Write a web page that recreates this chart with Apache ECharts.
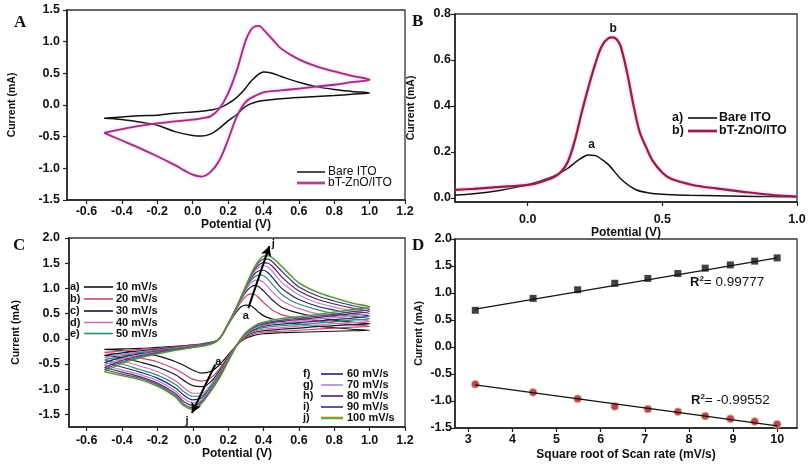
<!DOCTYPE html>
<html><head><meta charset="utf-8">
<script src="https://cdn.jsdelivr.net/npm/echarts@6/dist/echarts.min.js"></script>
<style>html,body{margin:0;padding:0;background:#fff}#c{width:810px;height:466px}</style>
</head><body><div id="c"></div>
<script>
// ---------- Panel A : CV, bare vs modified ----------
const aFwdX = [-0.5,-0.4,-0.3,-0.2,-0.1,0,0.05,0.1,0.15,0.2,0.25,0.275,0.3,0.325,0.35,0.375,0.4,0.45,0.5,0.6,0.7,0.8,0.9,1.0];
const aRevX = [0.9,0.8,0.7,0.6,0.5,0.4,0.35,0.3,0.25,0.2,0.15,0.1,0.05,0,-0.1,-0.2,-0.3,-0.4,-0.5];
const aBareFwd = [-0.21,-0.19,-0.17,-0.16,-0.13,-0.11,-0.10,-0.08,-0.05,0.02,0.12,0.19,0.27,0.36,0.43,0.49,0.52,0.50,0.45,0.36,0.29,0.245,0.215,0.19];
const aBareRev = [0.17,0.15,0.135,0.12,0.10,0.07,0.04,-0.02,-0.15,-0.25,-0.37,-0.46,-0.49,-0.48,-0.42,-0.32,-0.27,-0.23,-0.21];
const aZnoFwd = [-0.44,-0.38,-0.33,-0.29,-0.26,-0.23,-0.21,-0.18,-0.06,0.18,0.55,0.79,1.02,1.17,1.24,1.25,1.19,1.04,0.89,0.72,0.61,0.53,0.46,0.40];
const aZnoRev = [0.36,0.32,0.29,0.26,0.23,0.20,0.14,0.05,-0.18,-0.55,-0.88,-1.06,-1.13,-1.10,-0.95,-0.81,-0.68,-0.56,-0.44];
const aXTicks = [-0.6,-0.4,-0.2,0,0.2,0.4,0.6,0.8,1.0,1.2];
const aYTicks = [-1.5,-1.0,-0.5,0,0.5,1.0,1.5];
const abNames = ['Bare ITO','bT-ZnO/ITO'];

// ---------- Panel B : DPV ----------
const bBareX = [-0.27,-0.2,-0.1,0,0.05,0.1,0.15,0.18,0.2,0.225,0.25,0.275,0.3,0.35,0.4,0.45,0.5,0.6,0.7,0.8,0.9,1.0];
const bBareY = [0.012,0.018,0.034,0.057,0.075,0.097,0.13,0.158,0.174,0.187,0.185,0.168,0.145,0.078,0.037,0.022,0.016,0.012,0.01,0.008,0.006,0.005];
const bZnoX = [-0.27,-0.2,-0.1,0,0.05,0.1,0.125,0.15,0.175,0.2,0.225,0.25,0.275,0.3,0.315,0.33,0.345,0.37,0.39,0.415,0.44,0.465,0.5,0.53,0.6,0.65,0.7,0.8,0.9,1.0];
const bZnoY = [0.035,0.04,0.048,0.057,0.07,0.092,0.115,0.16,0.25,0.37,0.48,0.58,0.66,0.695,0.698,0.69,0.66,0.54,0.42,0.29,0.22,0.16,0.11,0.085,0.06,0.049,0.042,0.027,0.014,0.006];
const bXTicks = [0,0.5,1.0];
const bYTicks = [0,0.2,0.4,0.6,0.8];
const bLetters = ['a)','b)'];

// ---------- Panel C : CV at scan rates ----------
const cvFwdX = [-0.5,-0.4,-0.3,-0.2,-0.1,0,0.1,0.15,0.2,0.225,0.25,0.275,0.3,0.325,0.35,0.375,0.4,0.425,0.45,0.5,0.55,0.6,0.7,0.8,0.9,1.0];
const cvRevX = [0.9,0.8,0.7,0.6,0.5,0.4,0.35,0.3,0.25,0.2,0.15,0.1,0.05,0,-0.05,-0.1,-0.2,-0.3,-0.4,-0.5];
const fwd10 = [-0.21,-0.20,-0.19,-0.17,-0.15,-0.12,-0.07,0.0,0.28,0.42,0.55,0.64,0.67,0.66,0.60,0.52,0.46,0.42,0.39,0.35,0.31,0.29,0.25,0.22,0.19,0.17];
const rev10 = [0.16,0.15,0.14,0.13,0.12,0.10,0.07,0.01,-0.12,-0.32,-0.52,-0.65,-0.68,-0.62,-0.53,-0.45,-0.34,-0.28,-0.23,-0.21];
const fwd20 = [-0.27,-0.24,-0.21,-0.19,-0.16,-0.13,-0.08,0.0,0.29,0.44,0.60,0.74,0.84,0.89,0.88,0.81,0.72,0.64,0.57,0.48,0.44,0.41,0.36,0.31,0.28,0.25];
const rev20 = [0.23,0.21,0.19,0.17,0.15,0.13,0.10,0.03,-0.12,-0.35,-0.60,-0.78,-0.84,-0.80,-0.70,-0.60,-0.46,-0.38,-0.31,-0.27];
const fwd30 = [-0.33,-0.28,-0.24,-0.21,-0.17,-0.14,-0.08,0.0,0.29,0.45,0.62,0.79,0.93,1.02,1.06,1.03,0.95,0.86,0.77,0.63,0.56,0.51,0.43,0.37,0.33,0.30];
const rev30 = [0.28,0.26,0.24,0.21,0.19,0.16,0.13,0.05,-0.12,-0.37,-0.64,-0.86,-0.95,-0.93,-0.83,-0.71,-0.56,-0.46,-0.38,-0.33];
const fwd40 = [-0.37,-0.31,-0.26,-0.22,-0.18,-0.14,-0.09,0.0,0.29,0.45,0.63,0.81,0.97,1.09,1.16,1.17,1.12,1.03,0.93,0.77,0.67,0.60,0.50,0.44,0.39,0.35];
const rev40 = [0.32,0.30,0.27,0.25,0.22,0.19,0.15,0.07,-0.12,-0.39,-0.67,-0.92,-1.08,-1.08,-0.97,-0.83,-0.65,-0.54,-0.44,-0.37];
const fwd50 = [-0.42,-0.34,-0.28,-0.23,-0.19,-0.15,-0.09,0.0,0.30,0.46,0.63,0.82,1.00,1.14,1.23,1.27,1.25,1.18,1.08,0.89,0.77,0.69,0.58,0.50,0.45,0.40];
const rev50 = [0.37,0.34,0.31,0.28,0.26,0.22,0.17,0.08,-0.12,-0.40,-0.69,-0.95,-1.13,-1.14,-1.05,-0.90,-0.72,-0.61,-0.50,-0.42];
const fwd60 = [-0.47,-0.37,-0.30,-0.25,-0.20,-0.15,-0.09,0.0,0.30,0.46,0.64,0.83,1.01,1.17,1.29,1.35,1.36,1.31,1.22,1.01,0.88,0.78,0.65,0.57,0.50,0.45];
const rev60 = [0.41,0.38,0.35,0.32,0.29,0.25,0.19,0.09,-0.12,-0.41,-0.71,-0.98,-1.17,-1.21,-1.12,-0.97,-0.78,-0.66,-0.56,-0.47];
const fwd70 = [-0.52,-0.40,-0.32,-0.26,-0.21,-0.16,-0.10,0.0,0.30,0.46,0.64,0.83,1.02,1.20,1.34,1.42,1.45,1.42,1.34,1.13,0.99,0.87,0.72,0.63,0.56,0.50];
const rev70 = [0.46,0.42,0.39,0.35,0.32,0.27,0.21,0.10,-0.12,-0.42,-0.73,-1.00,-1.21,-1.27,-1.19,-1.03,-0.83,-0.71,-0.62,-0.52];
const fwd80 = [-0.57,-0.43,-0.34,-0.27,-0.21,-0.16,-0.10,0.0,0.30,0.47,0.65,0.84,1.03,1.22,1.37,1.47,1.51,1.50,1.44,1.24,1.08,0.95,0.79,0.69,0.61,0.54];
const rev80 = [0.50,0.46,0.42,0.38,0.35,0.29,0.23,0.11,-0.12,-0.43,-0.75,-1.02,-1.24,-1.32,-1.25,-1.08,-0.88,-0.75,-0.66,-0.57];
const fwd90 = [-0.61,-0.46,-0.36,-0.28,-0.22,-0.17,-0.10,0.0,0.30,0.47,0.65,0.84,1.04,1.23,1.40,1.52,1.58,1.58,1.53,1.35,1.18,1.03,0.86,0.75,0.66,0.58];
const rev90 = [0.54,0.49,0.45,0.41,0.37,0.31,0.24,0.12,-0.12,-0.44,-0.77,-1.04,-1.26,-1.37,-1.30,-1.12,-0.91,-0.78,-0.70,-0.61];
const fwd100 = [-0.65,-0.49,-0.38,-0.30,-0.23,-0.17,-0.11,0.0,0.30,0.47,0.65,0.85,1.05,1.25,1.43,1.56,1.64,1.65,1.61,1.45,1.27,1.11,0.93,0.81,0.71,0.63];
const rev100 = [0.58,0.53,0.48,0.44,0.40,0.33,0.26,0.12,-0.12,-0.45,-0.78,-1.05,-1.28,-1.40,-1.33,-1.15,-0.94,-0.81,-0.73,-0.65];
const cvRates = ['10 mV/s','20 mV/s','30 mV/s','40 mV/s','50 mV/s','60 mV/s','70 mV/s','80 mV/s','90 mV/s','100 mV/s'];
const cvLetters = ['a)','b)','c)','d)','e)','f)','g)','h)','i)','j)'];
const cvColors = ['#111111','#c8466e','#16162a','#c873c8','#2f8e6c','#24246e','#a98bd2','#5c1a55','#2c2c8c','#4e8c58'];
const cYTicks = [-1.5,-1.0,-0.5,0,0.5,1.0,1.5,2.0];

// ---------- Panel D : peak current vs sqrt(scan rate) ----------
const dX = [3.16,4.47,5.48,6.32,7.07,7.75,8.37,8.94,9.49,10.0];
const dAnodic = [0.68,0.90,1.06,1.18,1.27,1.36,1.46,1.52,1.59,1.65];
const dCathodic = [-0.69,-0.84,-0.96,-1.10,-1.15,-1.20,-1.28,-1.33,-1.38,-1.43];
const dFitX = [3.16,10.0];
const dFitAnodic = [0.70,1.65];
const dFitCathodic = [-0.70,-1.46];
const dR2 = ['0.99777','-0.99552'];
const dXTicks = [3,4,5,6,7,8,9,10];
const dYTicks = [-1.5,-1.0,-0.5,0,0.5,1.0,1.5,2.0];

// ---------- build ----------
const FONT = '"Liberation Sans", Arial, sans-serif';
const pairs = (xs, ys) => xs.map((x, i) => [x, ys[i]]);
const f1 = v => Number(v).toFixed(1);
const TICKFS = 12.5;

function mkX(gi, min, max, ticks, fmt, name, gap, margin) {
  return {type:'value', gridIndex:gi, min, max,
    axisLine:{show:true, onZero:false, lineStyle:{color:'#222', width:1.5}},
    axisTick:{show:true, inside:false, length:4, customValues:ticks, lineStyle:{color:'#222', width:1.2}},
    axisLabel:{show:true, customValues:ticks, formatter:fmt, margin, color:'#111', fontFamily:FONT, fontWeight:'bold', fontSize:TICKFS},
    splitLine:{show:false},
    name, nameLocation:'middle', nameGap:gap,
    nameTextStyle:{color:'#111', fontFamily:FONT, fontWeight:'bold', fontSize:12}};
}
function mkY(gi, min, max, ticks, fmt, gap, margin) {
  return {type:'value', gridIndex:gi, min, max,
    axisLine:{show:true, onZero:false, lineStyle:{color:'#222', width:1.5}},
    axisTick:{show:true, inside:false, length:4, customValues:ticks, lineStyle:{color:'#222', width:1.2}},
    axisLabel:{show:true, customValues:ticks, formatter:fmt, margin, color:'#111', fontFamily:FONT, fontWeight:'bold', fontSize:TICKFS},
    splitLine:{show:false},
    name:'Current (mA)', nameLocation:'middle', nameGap:gap,
    nameTextStyle:{color:'#111', fontFamily:FONT, fontWeight:'bold', fontSize:10.5}};
}
const gridStyle = {show:true, borderColor:'#333', borderWidth:1.3, backgroundColor:'rgba(0,0,0,0)'};

const purpleA = {color:'#9c2f86', width:1.8, shadowColor:'rgba(225,150,205,0.9)', shadowBlur:3};
const purpleB = {color:'#8e1f4e', width:2.2, shadowColor:'rgba(230,150,190,0.9)', shadowBlur:3};
const blk = {color:'#111', width:1.5};
const annLabel = {show:true, position:'inside', color:'#111', fontFamily:FONT, fontWeight:'bold', fontSize:12};
const invisible = {color:'rgba(0,0,0,0)'};

const series = [];
// A
series.push({name:abNames[0], type:'line', xAxisIndex:0, yAxisIndex:0, smooth:0.35, symbol:'none',
  data: pairs(aFwdX, aBareFwd).concat(pairs(aRevX, aBareRev)), lineStyle:blk});
series.push({name:abNames[1], type:'line', xAxisIndex:0, yAxisIndex:0, smooth:0.35, symbol:'none',
  data: pairs(aFwdX, aZnoFwd).concat(pairs(aRevX, aZnoRev)), lineStyle:purpleA});
// B
series.push({name:'b-'+abNames[0], type:'line', xAxisIndex:1, yAxisIndex:1, smooth:0.35, symbol:'none',
  data: pairs(bBareX, bBareY), lineStyle:blk,
  markPoint:{symbol:'circle', symbolSize:1, itemStyle:invisible, label:annLabel,
    data:[{coord:[0.237,0.232], value:'a', label:{formatter:'a'}},{coord:[0.317,0.735], value:'b', label:{formatter:'b'}}]}});
series.push({name:'b-'+abNames[1], type:'line', xAxisIndex:1, yAxisIndex:1, smooth:0.35, symbol:'none',
  data: pairs(bZnoX, bZnoY), lineStyle:purpleB});
// C
const cvFwd = [fwd10,fwd20,fwd30,fwd40,fwd50,fwd60,fwd70,fwd80,fwd90,fwd100];
const cvRev = [rev10,rev20,rev30,rev40,rev50,rev60,rev70,rev80,rev90,rev100];
cvRates.forEach((r, k) => {
  const s = {name:r, type:'line', xAxisIndex:2, yAxisIndex:2, smooth:0.35, symbol:'none',
    data: pairs(cvFwdX, cvFwd[k]).concat(pairs(cvRevX, cvRev[k])),
    lineStyle: k === 9 ? {color:cvColors[k], width:1.3, shadowColor:'rgba(230,220,110,0.95)', shadowBlur:3}
                       : {color:cvColors[k], width:1.2}, z: 2};
  if (k === 0) {
    s.markLine = {symbol:['none','arrow'], symbolSize:[8,10], silent:true, animation:false,
      lineStyle:{color:'#000', width:2, type:'solid'}, label:{show:false},
      data:[[{coord:[0.314,0.61]},{coord:[0.433,1.84]}],[{coord:[0.127,-0.51]},{coord:[-0.005,-1.47]}]]};
    s.markPoint = {symbol:'circle', symbolSize:1, itemStyle:invisible, label:Object.assign({}, annLabel, {fontSize:11}),
      data:[{coord:[0.30,0.45], label:{formatter:'a'}},{coord:[0.455,1.89], label:{formatter:'j'}},
            {coord:[0.145,-0.45], label:{formatter:'a'}},{coord:[-0.033,-1.64], label:{formatter:'j'}}]};
  }
  series.push(s);
});
// D
series.push({name:'fitA', type:'line', xAxisIndex:3, yAxisIndex:3, symbol:'none', data:pairs(dFitX, dFitAnodic), lineStyle:{color:'#111', width:1.2}});
series.push({name:'fitC', type:'line', xAxisIndex:3, yAxisIndex:3, symbol:'none', data:pairs(dFitX, dFitCathodic), lineStyle:{color:'#111', width:1.2}});
series.push({name:'Ipa', type:'scatter', xAxisIndex:3, yAxisIndex:3, symbol:'rect', symbolSize:7, data:pairs(dX, dAnodic), itemStyle:{color:'#111'}});
series.push({name:'Ipc', type:'scatter', xAxisIndex:3, yAxisIndex:3, symbol:'circle', symbolSize:8, data:pairs(dX, dCathodic),
  itemStyle:{color:'#a5173f', borderColor:'#f0cf70', borderWidth:1}});

// graphics: panel letters, legends, R2 texts
const g = [];
function txt(x, y, text, font, align, color) {
  g.push({type:'text', x, y, silent:true, style:{text, font, fill:color||'#111', textAlign:align||'left', align:align||'left', textVerticalAlign:'middle', verticalAlign:'middle'}});
}
function seg(x1, x2, y, color, w, halo) {
  if (halo) g.push({type:'line', silent:true, shape:{x1, y1:y, x2, y2:y}, style:{stroke:halo, lineWidth:w+2}});
  g.push({type:'line', silent:true, shape:{x1, y1:y, x2, y2:y}, style:{stroke:color, lineWidth:w}});
}
const LET = 'bold 17px "Liberation Serif", "Times New Roman", serif';
txt(14, 23, 'A', LET); txt(412, 22, 'B', LET); txt(13, 246, 'C', LET); txt(412, 246, 'D', LET);
// legend A
seg(297, 325, 172, '#111', 1.5); txt(328, 172, abNames[0], '12px ' + FONT);
seg(297, 325, 183, '#9c2f86', 1.6, 'rgba(225,150,205,0.9)'); txt(328, 183, abNames[1], '12px ' + FONT);
// legend B
txt(672, 118, bLetters[0], 'bold 12.5px ' + FONT); seg(688, 717, 118, '#111', 1.6); txt(719, 118, abNames[0], 'bold 12.5px ' + FONT);
txt(672, 131, bLetters[1], 'bold 12.5px ' + FONT); seg(688, 717, 131, '#8e1f4e', 2, 'rgba(230,150,190,0.9)'); txt(719, 131, abNames[1], 'bold 12.5px ' + FONT);
// legend C
const cLeftY = [287, 299, 311, 322.5, 333.5];
const cRightY = [374, 385, 396, 407, 418];
for (let k = 0; k < 10; k++) {
  const left = k < 5;
  const y = left ? cLeftY[k] : cRightY[k - 5];
  const lx = left ? 70 : 303, s1 = left ? 84 : 321, s2 = left ? 113 : 343, tx = left ? 116 : 347;
  txt(lx, y, cvLetters[k], 'bold 11px ' + FONT);
  seg(s1, s2, y, cvColors[k], 1.6, k === 9 ? 'rgba(230,220,110,0.9)' : null);
  txt(tx, y, cvRates[k], 'bold 11px ' + FONT);
}
// R2 texts
const r2Rich = {r:{font:'bold 13px ' + FONT, fill:'#111'}, s:{font:'bold 8px ' + FONT, fill:'#111', verticalAlign:'top', padding:[0,0,6,0]}, t:{font:'13.5px ' + FONT, fill:'#111'}};
g.push({type:'text', x:690, y:282, silent:true, style:{text:'{r|R}{s|2}{t|= ' + dR2[0] + '}', verticalAlign:'middle', textVerticalAlign:'middle', rich:r2Rich}});
g.push({type:'text', x:691, y:400, silent:true, style:{text:'{r|R}{s|2}{t|= ' + dR2[1] + '}', verticalAlign:'middle', textVerticalAlign:'middle', rich:r2Rich}});

const option = {
  animation:false,
  backgroundColor:'#fff',
  grid:[
    Object.assign({left:67, top:10, width:338, height:190}, gridStyle),
    Object.assign({left:455, top:14, width:342, height:188}, gridStyle),
    Object.assign({left:69, top:238, width:336, height:189}, gridStyle),
    Object.assign({left:455, top:239, width:342, height:189}, gridStyle)
  ],
  xAxis:[
    mkX(0, -0.71, 1.2, aXTicks, f1, 'Potential (V)', 15, 5),
    mkX(1, -0.27, 1.0, bXTicks, f1, 'Potential (V)', 24, 11),
    mkX(2, -0.7, 1.2, aXTicks, f1, 'Potential (V)', 21, 7),
    mkX(3, 2.7, 10.45, dXTicks, v => String(v), 'Square root of Scan rate (mV/s)', 21, 5)
  ],
  yAxis:[
    mkY(0, -1.5, 1.5, aYTicks, f1, 49, 7),
    mkY(1, -0.0174, 0.8, bYTicks, f1, 38, 4),
    mkY(2, -1.75, 2.0, cYTicks, f1, 47, 9),
    mkY(3, -1.5, 2.0, dYTicks, f1, 30, 3)
  ],
  series,
  graphic: g
};
const chart = echarts.init(document.getElementById('c'), null, {renderer:'canvas'});
chart.setOption(option);
</script></body></html>
